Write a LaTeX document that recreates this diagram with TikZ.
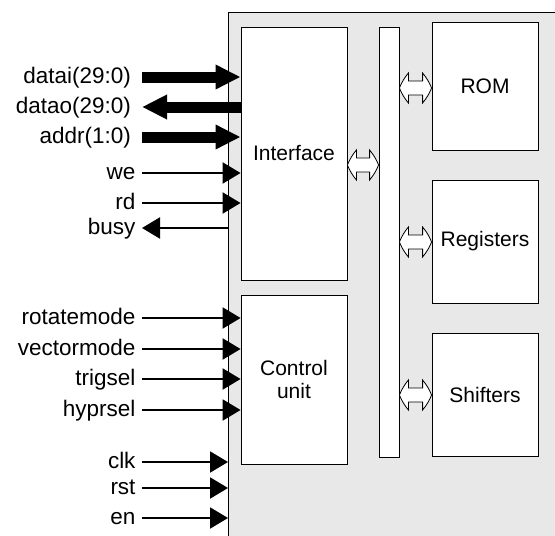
\documentclass[tikz,border=0pt]{standalone}
\usepackage{fontspec}
\setmainfont{Liberation Sans}
\usetikzlibrary{arrows.meta,calc}

\tikzset{
  block/.style={draw,thick,fill=white,inner sep=0pt,
                font=\fontsize{21}{23}\selectfont,align=center},
  sig/.style={line width=2pt,-{Triangle[length=18pt,width=21pt]}},
  busarrow/.style={line width=11pt,-{Triangle[length=25pt,width=23pt]}},
  dblarrow/.style={thick,fill=white,line join=miter},
  pin/.style={left,inner sep=5.5pt,text height=16.5pt,text depth=4.5pt,
              font=\fontsize{22.5}{24}\selectfont}
}
% hollow double arrow between two points on one row
\newcommand{\dblarr}[2]{%
  \draw[dblarrow] (#1) to[bend left=8] ++(9,-15) -- ++(0,8)
    -- ($(#2)+(-9,-7)$) -- ++(0,-8) to[bend left=8] (#2)
    to[bend left=8] ++(-9,15) -- ++(0,-8)
    -- ($(#1)+(9,7)$) -- ++(0,8) to[bend left=8] cycle;}

\begin{document}
\begin{tikzpicture}[x=1pt,y=-1pt]
    \useasboundingbox (0,0) rectangle (555,536);
    \clip (0,0) rectangle (555,536);

    % chip outline
    \fill[gray!18] (228,12) rectangle (570,550);
    \draw[thick] (570,12) -- (228,12) -- (228,550);
    \coordinate (chip) at (228,12);

    % blocks
    \node[block,minimum width=106pt,minimum height=253pt] (iface) at (294,153.5) {Interface};
    \node[block,minimum width=106pt,minimum height=169pt] (ctrl) at (294,379.5) {Control\\unit};
    \node[block,minimum width=20pt,minimum height=430pt] (bus) at (389,242) {};
    \node[block,minimum width=106pt,minimum height=128pt] (rom) at (485,86) {ROM};
    \node[block,minimum width=106pt,minimum height=123pt] (regs) at (485,241.5) {Registers};
    \node[block,minimum width=106pt,minimum height=123pt] (shift) at (485,394.5) {Shifters};

    % bus connections
    \coordinate (ifrow) at (0,165);
    \coordinate (romrow) at (0,88);
    \coordinate (regrow) at (0,242);
    \coordinate (shrow) at (0,395);
    \dblarr{iface.east |- ifrow}{bus.west |- ifrow}
    \dblarr{bus.east |- romrow}{rom.west |- romrow}
    \dblarr{bus.east |- regrow}{regs.west |- regrow}
    \dblarr{bus.east |- shrow}{shift.west |- shrow}

    % interface pins
    \coordinate (datai) at (142,77);
    \coordinate (datao) at (142,107);
    \coordinate (addr) at (142,137);
    \coordinate (we) at (142,173);
    \coordinate (rd) at (142,203);
    \coordinate (busy) at (142,228);
    \draw[busarrow] (datai) node[pin] {datai(29:0)} -- (datai -| iface.west);
    \draw[busarrow] (datao -| iface.west) -- (datao) node[pin] {datao(29:0)};
    \draw[busarrow] (addr) node[pin] {addr(1:0)} -- (addr -| iface.west);
    \draw[sig] (we) node[pin] {we} -- (we -| iface.west);
    \draw[sig] (rd) node[pin] {rd} -- (rd -| iface.west);
    \draw[sig] (busy -| chip) -- (busy) node[pin] {busy};

    % control pins
    \coordinate (rotm) at (142,318);
    \coordinate (vecm) at (142,349);
    \coordinate (trig) at (142,379);
    \coordinate (hypr) at (142,410);
    \draw[sig] (rotm) node[pin] {rotatemode} -- (rotm -| ctrl.west);
    \draw[sig] (vecm) node[pin] {vectormode} -- (vecm -| ctrl.west);
    \draw[sig] (trig) node[pin] {trigsel} -- (trig -| ctrl.west);
    \draw[sig] (hypr) node[pin] {hyprsel} -- (hypr -| ctrl.west);

    % global pins
    \coordinate (clk) at (142,462);
    \coordinate (rst) at (142,488);
    \coordinate (en) at (142,518);
    \draw[sig] (clk) node[pin] {clk} -- (clk -| chip);
    \draw[sig] (rst) node[pin] {rst} -- (rst -| chip);
    \draw[sig] (en) node[pin] {en} -- (en -| chip);
\end{tikzpicture}
\end{document}
